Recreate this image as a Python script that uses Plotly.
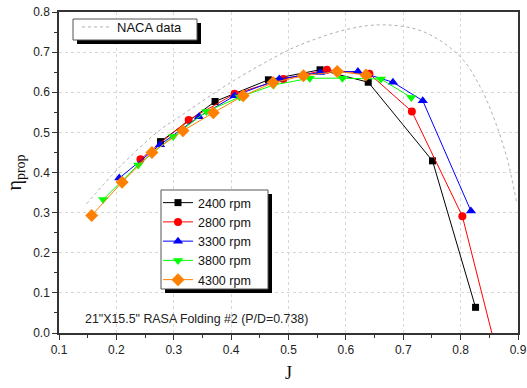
import plotly.graph_objects as go

# ---- data ----
j_2400 = [0.277, 0.372, 0.465, 0.555, 0.639, 0.751, 0.826]
eta_2400 = [0.477, 0.577, 0.631, 0.656, 0.625, 0.429, 0.064]

j_2800 = [0.242, 0.326, 0.406, 0.491, 0.567, 0.641, 0.715, 0.803, 0.865]
eta_2800 = [0.433, 0.531, 0.596, 0.633, 0.656, 0.646, 0.552, 0.291, -0.06]

j_3300 = [0.205, 0.276, 0.344, 0.406, 0.484, 0.555, 0.621, 0.682, 0.734, 0.818]
eta_3300 = [0.386, 0.469, 0.539, 0.591, 0.633, 0.649, 0.652, 0.625, 0.579, 0.304]

j_3800 = [0.177, 0.238, 0.299, 0.357, 0.415, 0.474, 0.537, 0.594, 0.661, 0.714]
eta_3800 = [0.333, 0.419, 0.490, 0.552, 0.588, 0.618, 0.635, 0.635, 0.633, 0.587]

j_4300 = [0.157, 0.210, 0.262, 0.316, 0.369, 0.421, 0.473, 0.526, 0.585, 0.635]
eta_4300 = [0.293, 0.376, 0.450, 0.504, 0.549, 0.591, 0.624, 0.641, 0.652, 0.643]

j_naca = [0.148, 0.21, 0.276, 0.31, 0.40, 0.49, 0.52, 0.60, 0.665, 0.735, 0.799, 0.834, 0.857, 0.88, 0.898]
eta_naca = [0.322, 0.42, 0.506, 0.539, 0.625, 0.698, 0.718, 0.756, 0.768, 0.751, 0.689, 0.614, 0.539, 0.44, 0.323]

series = [
    ("2400 rpm", j_2400, eta_2400, "#000000", "square", 7),
    ("2800 rpm", j_2800, eta_2800, "#ff0000", "circle", 8),
    ("3300 rpm", j_3300, eta_3300, "#0000ff", "triangle-up", 9),
    ("3800 rpm", j_3800, eta_3800, "#00ff00", "triangle-down", 9),
    ("4300 rpm", j_4300, eta_4300, "#ff8000", "diamond", 10),
]

x_ticks = [0.1, 0.2, 0.3, 0.4, 0.5, 0.6, 0.7, 0.8, 0.9]
y_ticks = [0.0, 0.1, 0.2, 0.3, 0.4, 0.5, 0.6, 0.7, 0.8]

W, H = 527, 388
L, T = 59, 12
R = W - 518
B = H - 333
PW = W - L - R
PH = H - T - B

def wx(px):  # window pixel -> paper x
    return (px - L) / PW

def wy(py):  # window pixel -> paper y
    return (H - B - py) / PH

fig = go.Figure()
fig.add_trace(go.Scatter(
    x=j_naca, y=eta_naca, mode="lines", name="NACA data",
    line=dict(color="#b0b0b0", width=1, dash="dot", shape="spline"),
    legend="legend2",
))
for name, xs, ys, col, sym, sz in series:
    fig.add_trace(go.Scatter(
        x=xs, y=ys, mode="lines+markers", name=name,
        line=dict(color=col, width=1),
        marker=dict(color=col, symbol=sym, size=sz),
        legend="legend",
    ))

fig.add_annotation(
    x=wx(83), y=wy(319), xref="paper", yref="paper", xanchor="left", yanchor="middle",
    text='21"X15.5" RASA Folding #2 (P/D=0.738)', showarrow=False,
    font=dict(family="Liberation Sans, Arial", size=12.4, color="#222"),
)

# legend boxes with drop shadows (drawn as shapes under the transparent legends)
def boxed(x0, y0, x1, y1, off=4):
    fig.add_shape(type="rect", xref="paper", yref="paper",
                  x0=wx(x0 + off), x1=wx(x1 + off), y0=wy(y1 + off), y1=wy(y0 + off),
                  fillcolor="black", line=dict(width=0), layer="above")
    fig.add_shape(type="rect", xref="paper", yref="paper",
                  x0=wx(x0), x1=wx(x1), y0=wy(y1), y1=wy(y0),
                  fillcolor="white", line=dict(width=1, color="#555"), layer="above")

boxed(161, 190, 268, 289)
boxed(73, 19, 197, 40)

fig.update_layout(
    width=W, height=H,
    margin=dict(l=L, r=R, t=T, b=B, autoexpand=False),
    paper_bgcolor="white", plot_bgcolor="white",
    font=dict(family="Liberation Sans, Arial", size=12, color="#222"),
    showlegend=True,
    legend=dict(
        x=wx(158), y=wy(188), xanchor="left", yanchor="top",
        bgcolor="rgba(0,0,0,0)", borderwidth=0,
        font=dict(family="Liberation Sans, Arial", size=12.5, color="#111"),
        tracegroupgap=0, itemwidth=30,
    ),
    legend2=dict(
        x=wx(77), y=wy(12), xanchor="left", yanchor="top",
        bgcolor="rgba(0,0,0,0)", borderwidth=0,
        font=dict(family="Liberation Sans, Arial", size=13, color="#111"),
        itemwidth=30,
    ),
    xaxis=dict(
        range=[0.1, 0.9], tickvals=x_ticks, ticktext=[f"{v:g}" for v in x_ticks],
        ticks="outside", ticklen=5, tickwidth=1, tickcolor="#333",
        minor=dict(dtick=0.05, ticks="outside", ticklen=3, tickcolor="#333", showgrid=False),
        showline=True, linecolor="#333", linewidth=1.5, mirror=True,
        showgrid=True, gridcolor="#d8d8d8", griddash="dot", gridwidth=1,
        zeroline=False, automargin=False, ticklabeloverflow="allow",
        title=dict(text="J", font=dict(family="Liberation Serif, Times New Roman", size=18, color="#111"), standoff=10),
        tickfont=dict(size=12),
    ),
    yaxis=dict(
        range=[0.0, 0.8], tickvals=y_ticks, ticktext=[f"{v:.1f}" for v in y_ticks],
        ticks="outside", ticklen=5, tickwidth=1, tickcolor="#333",
        minor=dict(dtick=0.05, ticks="outside", ticklen=3, tickcolor="#333", showgrid=False),
        showline=True, linecolor="#333", linewidth=1.5, mirror=True,
        showgrid=True, gridcolor="#d8d8d8", griddash="dot", gridwidth=1,
        zeroline=False, automargin=False, ticklabeloverflow="allow",
        title=dict(text="η<sub>prop</sub>", font=dict(family="Liberation Serif, Times New Roman", size=20, color="#111"), standoff=6),
        tickfont=dict(size=12),
    ),
)

fig.write_html("out.html", config={"displayModeBar": False},
               post_script="document.body.style.margin='0';")
